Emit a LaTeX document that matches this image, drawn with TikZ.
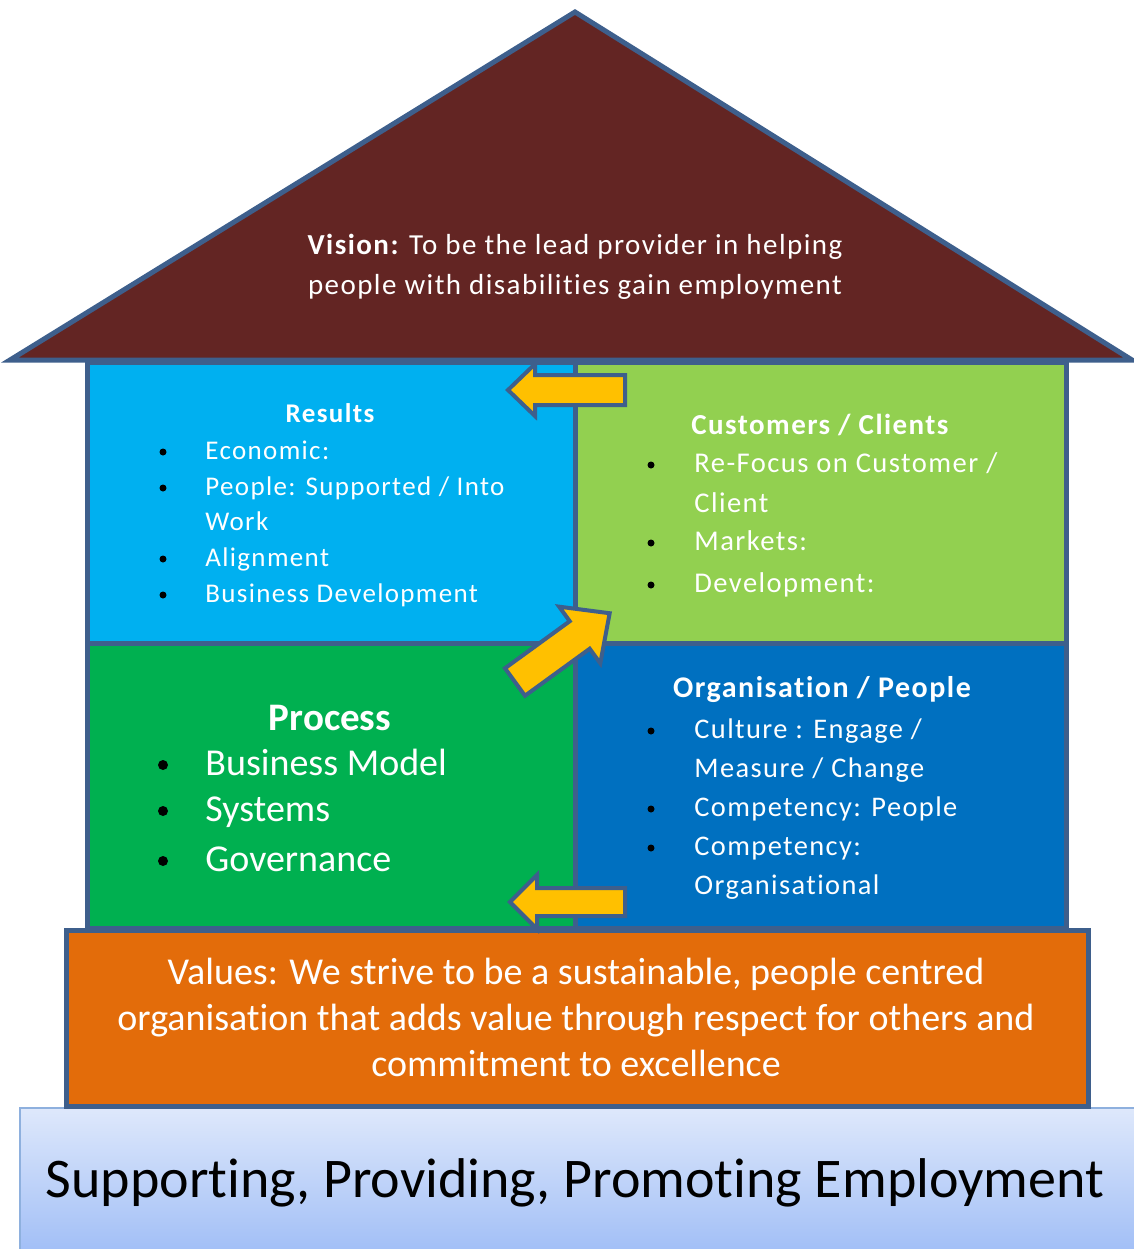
\documentclass[tikz,border=0pt]{standalone}
\usepackage{fontspec}
\setmainfont[Ligatures={NoCommon}]{Carlito}
\newfontfamily\lightfont[LetterSpace=5,Ligatures={NoCommon}]{Carlito}
\usetikzlibrary{positioning}

\definecolor{edgeblue}{HTML}{3E5F8C}
\definecolor{roofred}{HTML}{632523}
\definecolor{resultsblue}{HTML}{00B0F0}
\definecolor{clientgreen}{HTML}{92D050}
\definecolor{processgreen}{HTML}{00B050}
\definecolor{orgblue}{HTML}{0070C0}
\definecolor{valueorange}{HTML}{E36C0A}
\definecolor{arrowgold}{HTML}{FFC000}
\definecolor{baseedge}{HTML}{8EB0DE}
\definecolor{basetop}{HTML}{DEE8FB}
\definecolor{basebottom}{HTML}{9CBBF6}

\tikzset{
  box/.style={draw=edgeblue, line width=2.5pt, line join=miter},
  fatarrow/.style={fill=arrowgold, draw=edgeblue, line width=2pt, line join=miter},
  item/.style={anchor=mid west, text=white, inner sep=0pt, font=\lightfont\fontsize{#1}{16}\selectfont},
  item/.default=13.5,
  bigitem/.style={anchor=mid west, text=white, inner sep=0pt, font=\fontsize{19}{21}\selectfont},
  head/.style={text=white, inner sep=0pt, font=\lightfont\bfseries\fontsize{#1}{16}\selectfont},
  head/.default=13.5,
  dot/.style={circle, fill=black, inner sep=0pt, minimum size=3.5pt},
  bigdot/.style={circle, fill=black, inner sep=0pt, minimum size=5pt}
}

\begin{document}
\begin{tikzpicture}[x=0.5pt, y=-0.5pt]
    \useasboundingbox (0,0) rectangle (1134,1249);
    % base and values
    \shade[top color=basetop, bottom color=basebottom, draw=baseedge, line width=1pt] (20,1108) rectangle (1150,1265);
    \draw[box, fill=valueorange] (66,930) rectangle (1088,1106);
    % roof
    \draw[box, fill=roofred] (575,12) -- (1132,360) -- (10,360) -- cycle;
    % the four rooms
    \draw[box, fill=resultsblue] (87,362) rectangle (575,643);
    \draw[box, fill=clientgreen] (575,362) rectangle (1066,643);
    \draw[box, fill=processgreen] (87,643) rectangle (575,928);
    \draw[box, fill=orgblue] (575,643) rectangle (1066,928);
    % arrows
    \begin{scope}[shift={(625,390)}, rotate=180]
      \draw[fatarrow] (0,-15) -- (90,-15) -- (90,-26) -- (117,0) -- (90,26) -- (90,15) -- (0,15) -- cycle;
    \end{scope}
    \begin{scope}[shift={(625,902)}, rotate=180]
      \draw[fatarrow] (0,-14) -- (88,-14) -- (88,-27) -- (115,0) -- (88,27) -- (88,14) -- (0,14) -- cycle;
    \end{scope}
    \begin{scope}[shift={(515,682)}, rotate=36]
      \draw[fatarrow] (0,-17) -- (80,-17) -- (80,-35) -- (117,0) -- (80,35) -- (80,17) -- (0,17) -- cycle;
    \end{scope}
    % texts
    \node[text=white, align=center, font=\lightfont\fontsize{14.5}{20}\selectfont] (vision) at (575,267)
      {{\bfseries Vision:} To be the lead provider in helping\\people with disabilities gain employment};
    \node[head] (results) at (330,413) {Results};
    \foreach \y/\t [count=\i] in {455/Economic:, 491/{People: Supported / Into}, 526/Work, 562/Alignment, 598/Business Development}
      \node[item] (res-\i) at (205,\y) {\t};
    \foreach \y in {452,488,559,595}
      \node[dot] at (163,\y) {};
    \node[head=14.5] (clients) at (820,425) {Customers / Clients};
    \foreach \y/\t [count=\i] in {468/{Re-Focus on Customer /}, 508/Client, 546/Markets:, 588/Development:}
      \node[item=14.3] (cli-\i) at (694,\y) {\t};
    \foreach \y in {465,543,585}
      \node[dot] at (651,\y) {};
    \node[text=white, inner sep=0pt, font=\bfseries\fontsize{19.5}{21}\selectfont] (process) at (330,718) {Process};
    \foreach \y/\t [count=\i] in {771/Business Model, 817/Systems, 867/Governance}
      \node[bigitem] (pro-\i) at (205,\y) {\t};
    \foreach \y in {765,811,861}
      \node[bigdot] at (163,\y) {};
    \node[head=15] (org) at (822,690) {Organisation / People};
    \foreach \y/\t [count=\i] in {734/{Culture : Engage /}, 773/{Measure / Change}, 812/Competency: People, 851/Competency:, 890/Organisational}
      \node[item=14.2] (org-\i) at (694,\y) {\t};
    \foreach \y in {731,809,848}
      \node[dot] at (651,\y) {};
    \node[text=white, align=center, font=\fontsize{19}{23}\selectfont] (values) at (576,1017)
      {Values: We strive to be a sustainable, people centred\\organisation that adds value through respect for others and\\commitment to excellence};
    \node[font=\fontsize{28}{30}\selectfont] (motto) at (575,1183) {Supporting, Providing, Promoting Employment};
\end{tikzpicture}
\end{document}
